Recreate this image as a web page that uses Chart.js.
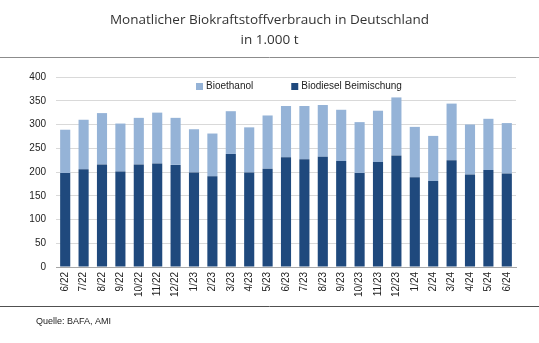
<!DOCTYPE html>
<html lang="de">

<head>
    <meta charset="UTF-8">
    <script src="https://cdn.jsdelivr.net/npm/chart.js@4.4.1/dist/chart.umd.min.js"></script>
    <title>Biokraftstoffverbrauch</title>
    <style>
        html, body { margin: 0; padding: 0; background: #fff; }
        #wrap { position: relative; width: 539px; height: 343px; }
    </style>
</head>

<body>
    <div id="wrap">
        <canvas id="myChart"></canvas>
    </div>

    <script>
        // Monate Juni 2022 bis Juni 2024
        var monate = ['6/22', '7/22', '8/22', '9/22', '10/22', '11/22', '12/22', '1/23', '2/23', '3/23', '4/23', '5/23',
            '6/23', '7/23', '8/23', '9/23', '10/23', '11/23', '12/23', '1/24', '2/24', '3/24', '4/24', '5/24', '6/24'];
        // Verbrauch in 1.000 t
        var biodiesel = [198, 206, 216, 201, 216, 218, 215, 199, 191, 238, 199, 207,
            231, 227, 232, 223, 198, 221, 235, 189, 181, 225, 195, 204, 197];
        var bioethanol = [91, 104, 108, 101, 98, 107, 99, 91, 90, 90, 95, 112,
            108, 112, 109, 108, 107, 108, 122, 106, 95, 119, 105, 108, 106];
        var yTicks = [0, 50, 100, 150, 200, 250, 300, 350, 400];

        var dunkelblau = '#1f497d';
        var hellblau = '#95b3d7';

        // Titel, Trennlinien, Quelle und Legende direkt aufs Canvas
        var rahmen = {
            id: 'rahmen',
            afterDraw: function (chart) {
                var ctx = chart.ctx;
                var w = chart.width;
                ctx.save();
                ctx.fillStyle = '#333';
                ctx.textAlign = 'center';
                ctx.textBaseline = 'middle';
                ctx.font = '13.5px "Open Sans"';
                ctx.fillText('Monatlicher Biokraftstoffverbrauch in Deutschland', w / 2, 20);
                ctx.fillText('in 1.000 t', w / 2, 40);

                ctx.strokeStyle = '#8c8c8c';
                ctx.lineWidth = 1;
                ctx.beginPath();
                ctx.moveTo(0, 57.5);
                ctx.lineTo(w, 57.5);
                ctx.stroke();

                ctx.strokeStyle = '#505050';
                ctx.beginPath();
                ctx.moveTo(0, 306.5);
                ctx.lineTo(w, 306.5);
                ctx.stroke();

                ctx.fillStyle = '#222';
                ctx.textAlign = 'left';
                ctx.font = '9px "Liberation Sans", Arial';
                ctx.fillText('Quelle: BAFA, AMI', 36, 322);

                // Legende: Bioethanol zuerst
                ctx.font = '10px "Liberation Sans", Arial';
                var x = 196;
                var ds = chart.data.datasets.slice().reverse();
                ds.forEach(function (d) {
                    ctx.fillStyle = d.backgroundColor;
                    ctx.fillRect(x, 83, 7, 7);
                    ctx.fillStyle = '#222';
                    ctx.fillText(d.label, x + 10, 86.5);
                    x += 10 + ctx.measureText(d.label).width + 38;
                });
                ctx.restore();
            }
        };

        var ctx = document.getElementById('myChart').getContext('2d');
        var chart = new Chart(ctx, {
            type: 'bar',
            data: {
                labels: monate,
                datasets: [{
                    label: 'Biodiesel Beimischung',
                    data: biodiesel,
                    backgroundColor: dunkelblau
                }, {
                    label: 'Bioethanol',
                    data: bioethanol,
                    backgroundColor: hellblau
                }]
            },
            options: {
                responsive: true,
                maintainAspectRatio: false,
                animation: false,
                layout: {
                    padding: { top: 77, right: 23, bottom: 46, left: 0 }
                },
                datasets: {
                    bar: { categoryPercentage: 1, barPercentage: 0.55 }
                },
                plugins: {
                    legend: { display: false },
                    tooltip: { enabled: false }
                },
                scales: {
                    x: {
                        stacked: true,
                        grid: { display: false, drawTicks: false },
                        border: { display: true, color: '#a6a6a6', width: 1 },
                        ticks: {
                            autoSkip: false,
                            minRotation: 90,
                            maxRotation: 90,
                            padding: 5,
                            color: '#222',
                            font: { family: '"Liberation Sans", Arial', size: 10 }
                        },
                        afterFit: function (scale) { scale.height = 30; }
                    },
                    y: {
                        stacked: true,
                        min: 0,
                        max: 400,
                        afterBuildTicks: function (scale) {
                            scale.ticks = yTicks.map(function (v) { return { value: v }; });
                        },
                        grid: { color: '#d9d9d9', drawTicks: false },
                        border: { display: false },
                        ticks: {
                            padding: 10,
                            color: '#222',
                            font: { family: '"Liberation Sans", Arial', size: 10 }
                        },
                        afterFit: function (scale) { scale.width = 56; }
                    }
                }
            },
            plugins: [rahmen]
        });
    </script>
</body>

</html>
